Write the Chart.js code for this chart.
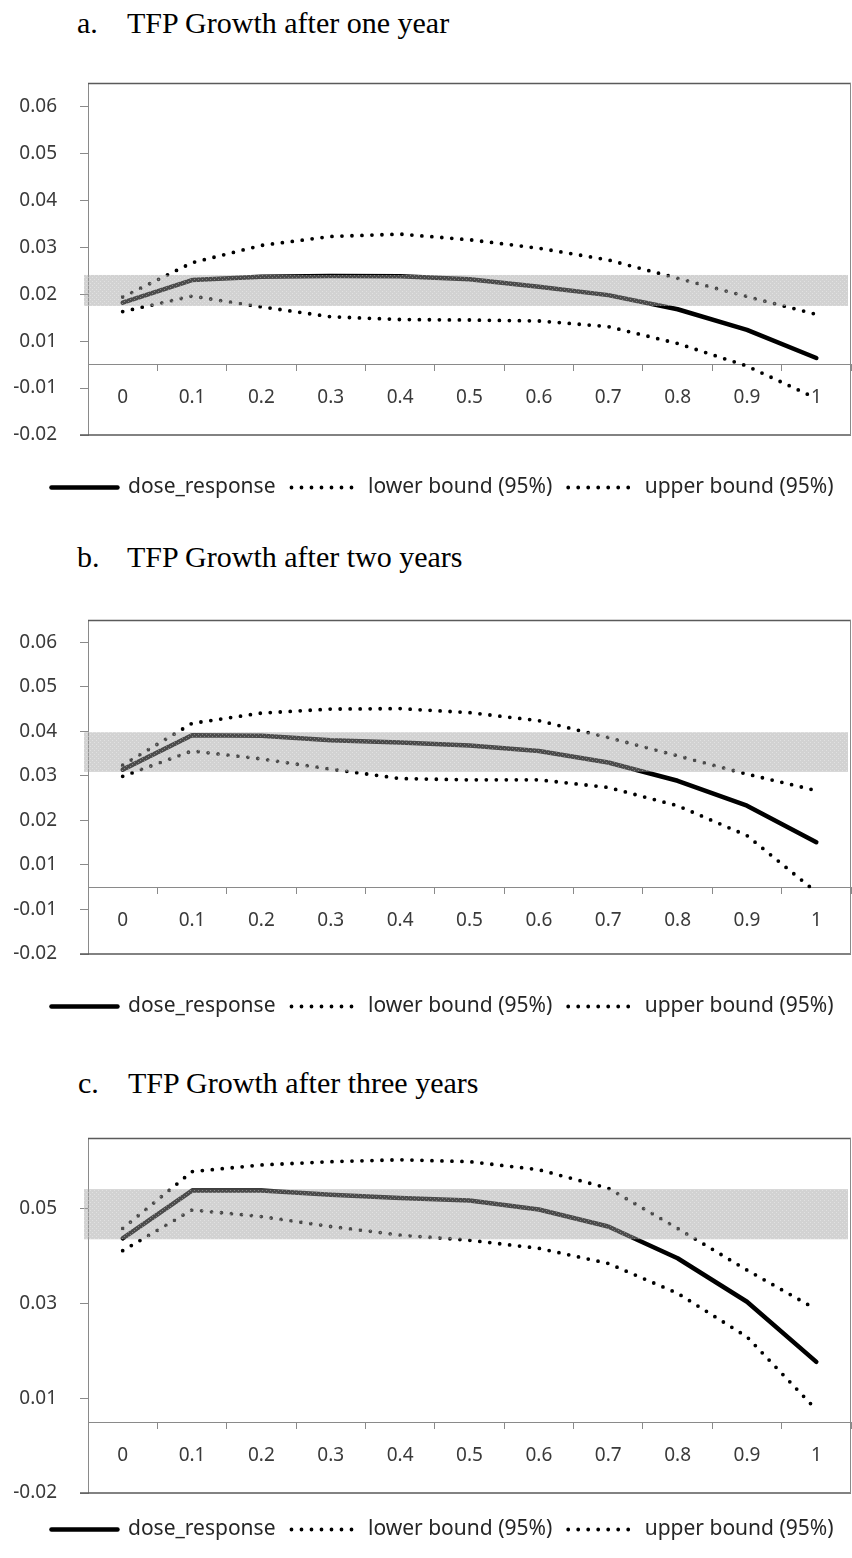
<!DOCTYPE html>
<html>
<head>
<meta charset="utf-8">
<script src="https://cdn.jsdelivr.net/npm/chart.js@4.4.0/dist/chart.umd.min.js"></script>
<style>
    html, body { margin: 0; padding: 0; background: #fff; }
    body { width: 852px; height: 1558px; position: relative; overflow: hidden; }
    .title { position: absolute; font-family: 'Liberation Serif', 'Times New Roman', serif; font-size: 30px; line-height: 30px; color: #000; white-space: nowrap; }
    .title .tag { position: absolute; left: 0; }
    .title .txt { position: absolute; left: 50px; }
    .panel { position: absolute; left: 0; width: 852px; }
</style>
</head>
<body>
<div class="title" style="left:77px; top:8px;"><span class="tag">a.</span><span class="txt">TFP Growth after one year</span></div>
<div class="panel" style="top:45px; height:463px;"><canvas id="chart-a"></canvas></div>

<div class="title" style="left:77px; top:542px;"><span class="tag">b.</span><span class="txt">TFP Growth after two years</span></div>
<div class="panel" style="top:580px; height:447px;"><canvas id="chart-b"></canvas></div>

<div class="title" style="left:78px; top:1068px;"><span class="tag">c.</span><span class="txt">TFP Growth after three years</span></div>
<div class="panel" style="top:1100px; height:450px;"><canvas id="chart-c"></canvas></div>

<script>
// 處理水準（x 軸類別）
const doseLevels = ['0', '0.1', '0.2', '0.3', '0.4', '0.5', '0.6', '0.7', '0.8', '0.9', '1'];
const seriesNames = ['dose_response', 'lower bound (95%)', 'upper bound (95%)'];

// a. 一年後
const doseA  = [0.0182, 0.0230, 0.0237, 0.0239, 0.0238, 0.0232, 0.0216, 0.0198, 0.0168, 0.0124, 0.0064];
const lowerA = [0.0163, 0.0196, 0.0173, 0.0152, 0.0146, 0.0145, 0.0143, 0.0131, 0.0095, 0.0047, -0.0022];
const upperA = [0.0194, 0.0267, 0.0304, 0.0323, 0.0328, 0.0316, 0.0298, 0.0273, 0.0234, 0.0195, 0.0157];
const bandA = [0.0175, 0.0241];
const yTicksA  = [-0.01, 0, 0.01, 0.02, 0.03, 0.04, 0.05, 0.06];
const yLabelsA = ['-0.02', '-0.01', '0.01', '0.02', '0.03', '0.04', '0.05', '0.06'];

// b. 兩年後
const doseB  = [0.0314, 0.0391, 0.0390, 0.0380, 0.0375, 0.0368, 0.0356, 0.0330, 0.0289, 0.0233, 0.0151];
const lowerB = [0.0299, 0.0356, 0.0338, 0.0315, 0.0294, 0.0291, 0.0291, 0.0274, 0.0233, 0.0166, 0.0039];
const upperB = [0.0324, 0.0418, 0.0441, 0.0450, 0.0451, 0.0442, 0.0424, 0.0386, 0.0345, 0.0304, 0.0267];
const bandB = [0.0309, 0.0398];
const yTicksB  = [-0.01, 0, 0.01, 0.02, 0.03, 0.04, 0.05, 0.06];
const yLabelsB = ['-0.02', '-0.01', '0.01', '0.02', '0.03', '0.04', '0.05', '0.06'];

// c. 三年後
const doseC  = [0.0438, 0.0539, 0.0539, 0.0530, 0.0523, 0.0518, 0.0499, 0.0463, 0.0396, 0.0304, 0.0177];
const lowerC = [0.0412, 0.0498, 0.0484, 0.0463, 0.0445, 0.0434, 0.0417, 0.0385, 0.0322, 0.0230, 0.0076];
const upperC = [0.0459, 0.0579, 0.0593, 0.0600, 0.0604, 0.0600, 0.0583, 0.0544, 0.0459, 0.0371, 0.0288];
const bandC = [0.0436, 0.0542];
const yTicksC  = [-0.01, 0.01, 0.03, 0.05];
const yLabelsC = ['-0.02', '0.01', '0.03', '0.05'];

const AXIS_GRAY = '#8a8a8a';
const TEXT_COLOR = '#3a3a3a';
const TICK_FONT = { family: "'Noto Sans', sans-serif", size: 19 };

// 灰色帶狀區（畫在線條之上，半透明）
const bandPlugin = {
    id: 'tfpBand',
    afterDatasetsDraw(chart, args, opts) {
        const { ctx, chartArea } = chart;
        const yScale = chart.scales.y;
        const top = yScale.getPixelForValue(opts.high);
        const bottom = yScale.getPixelForValue(opts.low);

        const tile = document.createElement('canvas');
        tile.width = 4;
        tile.height = 4;
        const t = tile.getContext('2d');
        t.fillStyle = 'rgba(160,160,160,0.47)';
        t.fillRect(0, 0, 4, 4);
        t.fillStyle = 'rgba(255,255,255,0.35)';
        t.fillRect(0, 0, 1, 1);
        t.fillRect(2, 2, 1, 1);

        ctx.save();
        ctx.fillStyle = ctx.createPattern(tile, 'repeat');
        ctx.fillRect(chartArea.left - 4, top, chartArea.width + 1, bottom - top);
        ctx.restore();
    }
};

// 外框（上、右、下）
const framePlugin = {
    id: 'tfpFrame',
    afterDraw(chart) {
        const { ctx, chartArea } = chart;
        const { left, right, top, bottom } = chartArea;
        ctx.save();
        ctx.strokeStyle = '#5a5a5a';
        ctx.lineWidth = 1.5;
        ctx.beginPath();
        ctx.moveTo(left, top + 0.5);
        ctx.lineTo(right, top + 0.5);
        ctx.moveTo(left - 8, bottom);
        ctx.lineTo(right, bottom);
        ctx.stroke();
        ctx.strokeStyle = AXIS_GRAY;
        ctx.lineWidth = 1;
        ctx.beginPath();
        ctx.moveTo(right - 0.5, top);
        ctx.lineTo(right - 0.5, bottom);
        ctx.stroke();
        ctx.restore();
    }
};

// 圖例整體往右移，對齊原圖
const legendShiftPlugin = {
    id: 'legendShift',
    afterLayout(chart, args, opts) {
        const legend = chart.legend;
        if (!legend) return;
        legend.left += opts.dx;
        legend.right += opts.dx;
    }
};

function makeChart(canvasId, panel) {
    const ctx = document.getElementById(canvasId);

    return new Chart(ctx, {
        type: 'line',
        data: {
            labels: doseLevels,
            datasets: [
                {
                    label: seriesNames[0],
                    data: panel.dose,
                    borderColor: '#000',
                    backgroundColor: '#000',
                    borderWidth: 4.5,
                    borderCapStyle: 'round',
                    borderJoinStyle: 'round',
                    pointRadius: 0,
                    tension: 0
                },
                {
                    label: seriesNames[1],
                    data: panel.lower,
                    borderColor: '#000',
                    backgroundColor: '#000',
                    borderWidth: 3.8,
                    borderDash: [0, 10],
                    borderCapStyle: 'round',
                    pointRadius: 0,
                    tension: 0
                },
                {
                    label: seriesNames[2],
                    data: panel.upper,
                    borderColor: '#000',
                    backgroundColor: '#000',
                    borderWidth: 3.8,
                    borderDash: [0, 10],
                    borderCapStyle: 'round',
                    pointRadius: 0,
                    tension: 0
                }
            ]
        },
        options: {
            responsive: true,
            maintainAspectRatio: false,
            animation: false,
            devicePixelRatio: 1,
            layout: {
                padding: { top: panel.padTop, left: 10, right: 1, bottom: 0 }
            },
            scales: {
                x: {
                    type: 'category',
                    position: { y: 0.005 },
                    offset: true,
                    grid: {
                        offset: true,
                        drawOnChartArea: false,
                        drawTicks: true,
                        tickLength: 6,
                        color: AXIS_GRAY
                    },
                    border: { display: true, color: AXIS_GRAY, width: 1 },
                    ticks: {
                        color: TEXT_COLOR,
                        font: TICK_FONT,
                        padding: 16,
                        maxRotation: 0,
                        autoSkip: false
                    }
                },
                y: {
                    type: 'linear',
                    position: 'left',
                    min: -0.01,
                    max: 0.065,
                    afterBuildTicks: (scale) => {
                        scale.ticks = panel.yTicks.map(v => ({ value: v }));
                    },
                    afterFit: (scale) => {
                        scale.width = 78;
                    },
                    grid: {
                        drawOnChartArea: false,
                        drawTicks: true,
                        tickLength: 8,
                        color: AXIS_GRAY
                    },
                    border: { display: true, color: AXIS_GRAY, width: 1 },
                    ticks: {
                        color: TEXT_COLOR,
                        font: TICK_FONT,
                        padding: 23,
                        callback: (value, index) => panel.yLabels[index]
                    }
                },
                // 圖框與圖例之間的留白
                gap: {
                    type: 'linear',
                    position: 'bottom',
                    grid: { display: false, drawTicks: false },
                    border: { display: false },
                    ticks: { display: false },
                    afterFit: (scale) => {
                        scale.height = panel.spacer;
                    }
                }
            },
            plugins: {
                tooltip: { enabled: false },
                legend: {
                    position: 'bottom',
                    labels: {
                        usePointStyle: true,
                        pointStyle: 'line',
                        pointStyleWidth: 66,
                        padding: 16,
                        color: '#262626',
                        font: { family: "'Noto Sans', sans-serif", size: 21 },
                        generateLabels: (chart) => chart.data.datasets.map((ds, i) => ({
                            text: ds.label,
                            fillStyle: ds.borderColor,
                            strokeStyle: ds.borderColor,
                            lineWidth: ds.borderWidth,
                            lineDash: ds.borderDash || [],
                            lineCap: ds.borderCapStyle,
                            pointStyle: 'line',
                            fontColor: '#262626',
                            hidden: false,
                            datasetIndex: i
                        }))
                    }
                },
                legendShift: { dx: 12 },
                tfpBand: { low: panel.band[0], high: panel.band[1] }
            }
        },
        plugins: [bandPlugin, framePlugin, legendShiftPlugin]
    });
}

makeChart('chart-a', {
    dose: doseA, lower: lowerA, upper: upperA, band: bandA,
    yTicks: yTicksA, yLabels: yLabelsA, padTop: 38, spacer: 26
});
makeChart('chart-b', {
    dose: doseB, lower: lowerB, upper: upperB, band: bandB,
    yTicks: yTicksB, yLabels: yLabelsB, padTop: 40, spacer: 26
});
makeChart('chart-c', {
    dose: doseC, lower: lowerC, upper: upperC, band: bandC,
    yTicks: yTicksC, yLabels: yLabelsC, padTop: 38, spacer: 10
});
</script>
</body>
</html>
